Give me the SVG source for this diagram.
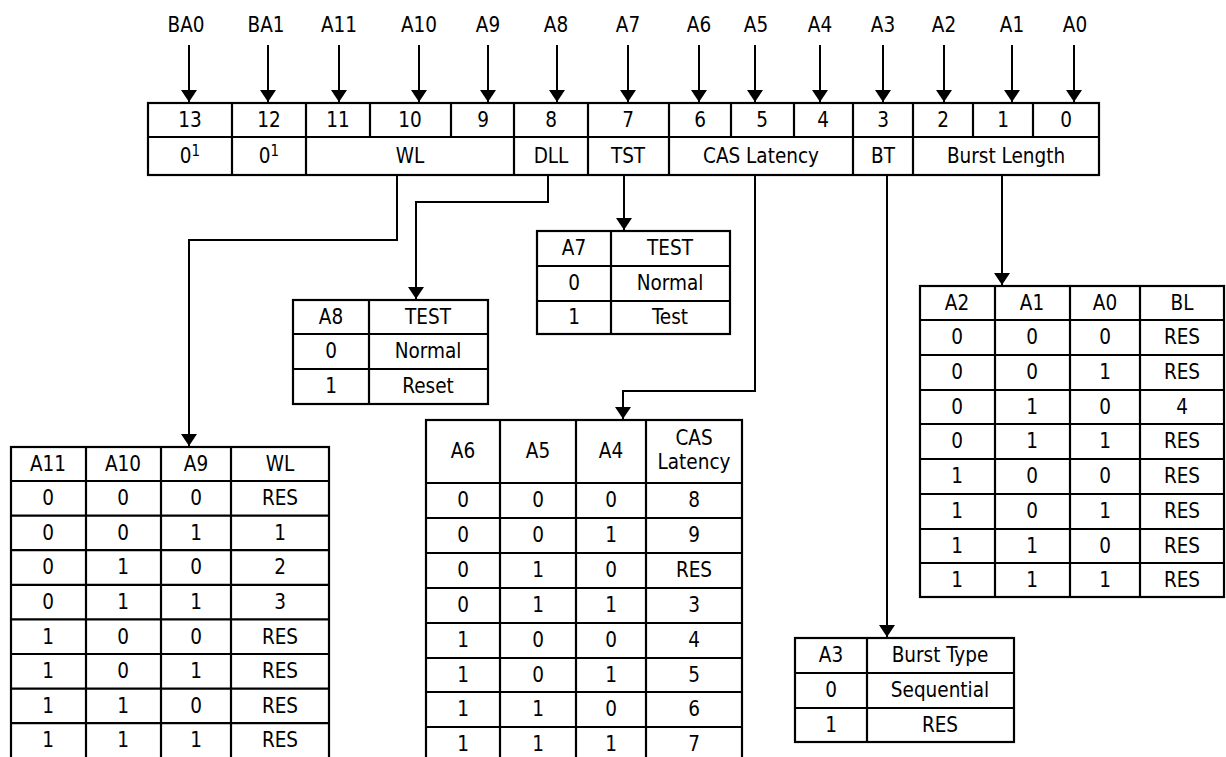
<svg xmlns="http://www.w3.org/2000/svg" width="1226" height="757" viewBox="0 0 1226 757">
<defs>
<marker id="ah" viewBox="0 0 12 16" refX="12" refY="8" markerWidth="12" markerHeight="16" markerUnits="userSpaceOnUse" orient="auto">
<path d="M0,0 L12,8 L0,16 z" fill="#000"/>
</marker>
<style>
text{font-family:"DejaVu Sans Condensed","DejaVu Sans",sans-serif;font-size:20.5px;fill:#000;text-anchor:middle}
.b{fill:none;stroke:#000;stroke-width:2.2}
.c{fill:none;stroke:#000;stroke-width:2;marker-end:url(#ah)}
.sup{font-size:15px}
</style>
</defs>
<rect width="1226" height="757" fill="#fff"/>

<g id="register">
<rect class="b" x="148" y="103" width="951" height="72"/>
<path class="b" d="M148,137H1099 M232,103V175 M306,103V175 M514,103V175 M588,103V175 M669,103V175 M853,103V175 M913,103V175 M370,103V137 M451,103V137 M731,103V137 M794,103V137 M973,103V137 M1033,103V137"/>
<g>
<text x="190" y="127">13</text><text x="269" y="127">12</text><text x="338" y="127">11</text><text x="410" y="127">10</text><text x="483" y="127">9</text><text x="551" y="127">8</text><text x="628" y="127">7</text><text x="700" y="127">6</text><text x="762" y="127">5</text><text x="823" y="127">4</text><text x="883" y="127">3</text><text x="943" y="127">2</text><text x="1003" y="127">1</text><text x="1066" y="127">0</text>
</g>
<g>
<text x="190" y="163">0<tspan class="sup" dy="-7">1</tspan></text>
<text x="269" y="163">0<tspan class="sup" dy="-7">1</tspan></text>
<text x="410" y="163">WL</text><text x="551" y="163">DLL</text><text x="628" y="163">TST</text><text x="761" y="163">CAS Latency</text><text x="883" y="163">BT</text><text x="1006" y="163">Burst Length</text>
</g>
</g>

<g id="pins">
<text x="186" y="32">BA0</text><text x="266" y="32">BA1</text><text x="339" y="32">A11</text><text x="419" y="32">A10</text><text x="488" y="32">A9</text><text x="556" y="32">A8</text><text x="628" y="32">A7</text><text x="699" y="32">A6</text><text x="756" y="32">A5</text><text x="820" y="32">A4</text><text x="883" y="32">A3</text><text x="944" y="32">A2</text><text x="1012" y="32">A1</text><text x="1075" y="32">A0</text>
</g>

<g id="connectors">
<path class="c" d="M189,45V102"/><path class="c" d="M268,45V102"/><path class="c" d="M339,45V102"/><path class="c" d="M419,45V102"/><path class="c" d="M488,45V102"/><path class="c" d="M557,45V102"/><path class="c" d="M628,45V102"/><path class="c" d="M699,45V102"/><path class="c" d="M755,45V102"/><path class="c" d="M820,45V102"/><path class="c" d="M883,45V102"/><path class="c" d="M944,45V102"/><path class="c" d="M1012,45V102"/><path class="c" d="M1074,45V102"/>
<path class="c" d="M397,176V240H189V446"/>
<path class="c" d="M548,176V202H416V299"/>
<path class="c" d="M624,176V230"/>
<path class="c" d="M755,176V391H623V419"/>
<path class="c" d="M887,176V637"/>
<path class="c" d="M1002,176V285"/>
</g>

<g id="tbl-a8">
<rect class="b" x="293" y="300" width="195" height="104"/>
<path class="b" d="M369,300V404 M293,334H488 M293,369H488"/>
<text x="331" y="324">A8</text><text x="428" y="324">TEST</text>
<text x="331" y="358">0</text><text x="428" y="358">Normal</text>
<text x="331" y="393">1</text><text x="428" y="393">Reset</text>
</g>

<g id="tbl-a7">
<rect class="b" x="537" y="231" width="193" height="103"/>
<path class="b" d="M611,231V334 M537,266H730 M537,301H730"/>
<text x="574" y="255">A7</text><text x="670" y="255">TEST</text>
<text x="574" y="290">0</text><text x="670" y="290">Normal</text>
<text x="574" y="324">1</text><text x="670" y="324">Test</text>
</g>

<g id="tbl-wl">
<rect class="b" x="11" y="447" width="318" height="312"/>
<path class="b" d="M86,447V759 M161,447V759 M231,447V759 M11,481H329 M11,515.6H329 M11,550.2H329 M11,584.8H329 M11,619.4H329 M11,654H329 M11,688.6H329 M11,723.2H329"/>
<text x="48" y="471">A11</text><text x="123" y="471">A10</text><text x="196" y="471">A9</text><text x="280" y="471">WL</text>
<text x="48" y="505">0</text><text x="123" y="505">0</text><text x="196" y="505">0</text><text x="280" y="505">RES</text>
<text x="48" y="540">0</text><text x="123" y="540">0</text><text x="196" y="540">1</text><text x="280" y="540">1</text>
<text x="48" y="574">0</text><text x="123" y="574">1</text><text x="196" y="574">0</text><text x="280" y="574">2</text>
<text x="48" y="609">0</text><text x="123" y="609">1</text><text x="196" y="609">1</text><text x="280" y="609">3</text>
<text x="48" y="644">1</text><text x="123" y="644">0</text><text x="196" y="644">0</text><text x="280" y="644">RES</text>
<text x="48" y="678">1</text><text x="123" y="678">0</text><text x="196" y="678">1</text><text x="280" y="678">RES</text>
<text x="48" y="713">1</text><text x="123" y="713">1</text><text x="196" y="713">0</text><text x="280" y="713">RES</text>
<text x="48" y="747">1</text><text x="123" y="747">1</text><text x="196" y="747">1</text><text x="280" y="747">RES</text>
</g>

<g id="tbl-cas">
<rect class="b" x="426" y="420" width="316" height="342"/>
<path class="b" d="M500,420V762 M576,420V762 M646,420V762 M426,483H742 M426,518H742 M426,553H742 M426,588H742 M426,623H742 M426,658H742 M426,692H742 M426,727H742"/>
<text x="463" y="458">A6</text><text x="538" y="458">A5</text><text x="611" y="458">A4</text><text x="694" y="445">CAS</text><text x="694" y="469">Latency</text>
<text x="463" y="507">0</text><text x="538" y="507">0</text><text x="611" y="507">0</text><text x="694" y="507">8</text>
<text x="463" y="542">0</text><text x="538" y="542">0</text><text x="611" y="542">1</text><text x="694" y="542">9</text>
<text x="463" y="577">0</text><text x="538" y="577">1</text><text x="611" y="577">0</text><text x="694" y="577">RES</text>
<text x="463" y="612">0</text><text x="538" y="612">1</text><text x="611" y="612">1</text><text x="694" y="612">3</text>
<text x="463" y="647">1</text><text x="538" y="647">0</text><text x="611" y="647">0</text><text x="694" y="647">4</text>
<text x="463" y="682">1</text><text x="538" y="682">0</text><text x="611" y="682">1</text><text x="694" y="682">5</text>
<text x="463" y="716">1</text><text x="538" y="716">1</text><text x="611" y="716">0</text><text x="694" y="716">6</text>
<text x="463" y="751">1</text><text x="538" y="751">1</text><text x="611" y="751">1</text><text x="694" y="751">7</text>
</g>

<g id="tbl-bl">
<rect class="b" x="920" y="286" width="304" height="311"/>
<path class="b" d="M995,286V597 M1070,286V597 M1140,286V597 M920,320H1224 M920,355H1224 M920,390H1224 M920,424H1224 M920,459H1224 M920,494H1224 M920,529H1224 M920,563H1224"/>
<text x="957" y="310">A2</text><text x="1032" y="310">A1</text><text x="1105" y="310">A0</text><text x="1182" y="310">BL</text>
<text x="957" y="344">0</text><text x="1032" y="344">0</text><text x="1105" y="344">0</text><text x="1182" y="344">RES</text>
<text x="957" y="379">0</text><text x="1032" y="379">0</text><text x="1105" y="379">1</text><text x="1182" y="379">RES</text>
<text x="957" y="414">0</text><text x="1032" y="414">1</text><text x="1105" y="414">0</text><text x="1182" y="414">4</text>
<text x="957" y="448">0</text><text x="1032" y="448">1</text><text x="1105" y="448">1</text><text x="1182" y="448">RES</text>
<text x="957" y="483">1</text><text x="1032" y="483">0</text><text x="1105" y="483">0</text><text x="1182" y="483">RES</text>
<text x="957" y="518">1</text><text x="1032" y="518">0</text><text x="1105" y="518">1</text><text x="1182" y="518">RES</text>
<text x="957" y="553">1</text><text x="1032" y="553">1</text><text x="1105" y="553">0</text><text x="1182" y="553">RES</text>
<text x="957" y="587">1</text><text x="1032" y="587">1</text><text x="1105" y="587">1</text><text x="1182" y="587">RES</text>
</g>

<g id="tbl-bt">
<rect class="b" x="795" y="638" width="219" height="104"/>
<path class="b" d="M867,638V742 M795,673H1014 M795,708H1014"/>
<text x="831" y="662">A3</text><text x="940" y="662">Burst Type</text>
<text x="831" y="697">0</text><text x="940" y="697">Sequential</text>
<text x="831" y="732">1</text><text x="940" y="732">RES</text>
</g>
</svg>
